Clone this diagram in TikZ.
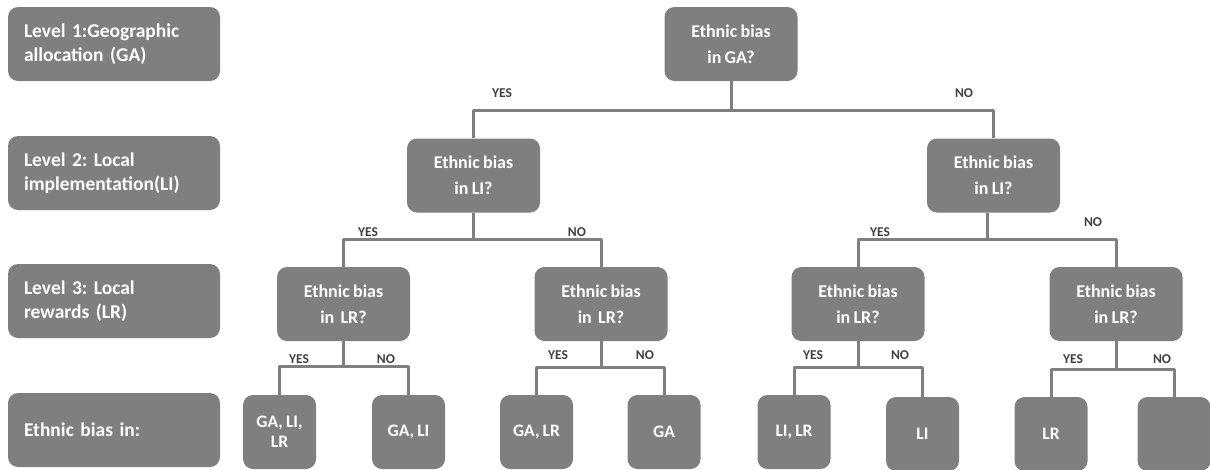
\documentclass[tikz,border=0pt]{standalone}
\usepackage{fontspec}
\setmainfont{Carlito}[WordSpace=0.8]
\frenchspacing
\usetikzlibrary{positioning}
\definecolor{boxgray}{HTML}{7F7F7F}
\definecolor{labgray}{HTML}{404040}
\tikzset{
	lvl/.style={fill=boxgray, rounded corners=10pt, inner sep=0pt, minimum width=212pt, minimum height=74pt, text width=180pt, align=left, text=white, font=\bfseries\fontsize{19.5}{24.5}\selectfont},
	ask/.style={fill=boxgray, rounded corners=10pt, inner sep=0pt, minimum width=133pt, minimum height=74pt, align=center, text=white, font=\bfseries\fontsize{18}{26}\selectfont},
	leaf/.style={fill=boxgray, rounded corners=10pt, inner sep=0pt, minimum width=73pt, minimum height=74pt, align=center, text=white, font=\bfseries\fontsize{17.5}{20}\selectfont},
	yn/.style={text=labgray, inner sep=0pt, font=\bfseries\fontsize{13.5}{14}\selectfont},
	link/.style={draw=boxgray, line width=3pt}
}
\begin{document}
\begin{tikzpicture}[x=1pt, y=-1pt, line join=round]
	\useasboundingbox (0,0) rectangle (1210,469);
	% level labels
	\path
	(114,44) node[lvl] (lvA) {Level 1:Geographic\\allocation (GA)}
	(114,173) node[lvl] (lvB) {Level 2: Local\\implementation(LI)}
	(114,301) node[lvl] (lvC) {Level 3: Local\\rewards (LR)}
	(114,430) node[lvl] (lvD) {Ethnic bias in:};
	% questions
	\path
	(731,44) node[ask] (ga) {Ethnic bias\\in GA?}
	(473.5,175.5) node[ask] (liY) {Ethnic bias\\in LI?}
	(993.5,175.5) node[ask] (liN) {Ethnic bias\\in LI?}
	(343.5,304) node[ask] (lrYY) {Ethnic bias\\in\, LR?}
	(601,304) node[ask] (lrYN) {Ethnic bias\\in\, LR?}
	(858,304) node[ask] (lrNY) {Ethnic bias\\in LR?}
	(1116,304) node[ask] (lrNN) {Ethnic bias\\in LR?};
	% outcomes
	\path
	(279.5,432) node[leaf] (gaLiLr) {GA, LI,\\LR}
	(408.5,432) node[leaf] (gaLi) {GA, LI}
	(536.5,432) node[leaf] (gaLr) {GA, LR}
	(664,432) node[leaf] (gaOnly) {GA}
	(794,432) node[leaf] (liLr) {LI, LR}
	(922.5,434) node[leaf] (liOnly) {LI}
	(1051,434) node[leaf] (lrOnly) {LR}
	(1174,434) node[leaf] (none) {};
	% branches
	\draw[link] (ga.south) -- ++(0,29) -| (liY.north);
	\draw[link] (ga.south) -- ++(0,29) -| (liN.north);
	\draw[link] (liY.south) -- ++(0,27) -| (lrYY.north);
	\draw[link] (liY.south) -- ++(0,27) -| (lrYN.north);
	\draw[link] ([xshift=-6pt]liN.south) -- ++(0,27) -| (lrNY.north);
	\draw[link] ([xshift=-6pt]liN.south) -- ++(0,27) -| (lrNN.north);
	\draw[link] (lrYY.south) -- ++(0,25) -| (gaLiLr.north);
	\draw[link] (lrYY.south) -- ++(0,25) -| (gaLi.north);
	\draw[link] (lrYN.south) -- ++(0,26) -| (gaLr.north);
	\draw[link] (lrYN.south) -- ++(0,26) -| (gaOnly.north);
	\draw[link] (lrNY.south) -- ++(0,26) -| (liLr.north);
	\draw[link] (lrNY.south) -- ++(0,26) -| (liOnly.north);
	\draw[link] (lrNN.south) -- ++(0,28) -| (lrOnly.north);
	\draw[link] (lrNN.south) -- ++(0,28) -| (none.north);
	% yes / no
	\path
	(502,93) node[yn] (ynA) {YES}
	(964,93) node[yn] (ynB) {NO}
	(368,232) node[yn] (ynC) {YES}
	(577,232) node[yn] (ynD) {NO}
	(880,232) node[yn] (ynE) {YES}
	(1093,222) node[yn] (ynF) {NO}
	(299,359) node[yn] (ynG) {YES}
	(386,359) node[yn] (ynH) {NO}
	(558,355) node[yn] (ynI) {YES}
	(645,355) node[yn] (ynJ) {NO}
	(813,355) node[yn] (ynK) {YES}
	(900,355) node[yn] (ynL) {NO}
	(1073,359) node[yn] (ynM) {YES}
	(1162,359) node[yn] (ynN) {NO};
\end{tikzpicture}
\end{document}
